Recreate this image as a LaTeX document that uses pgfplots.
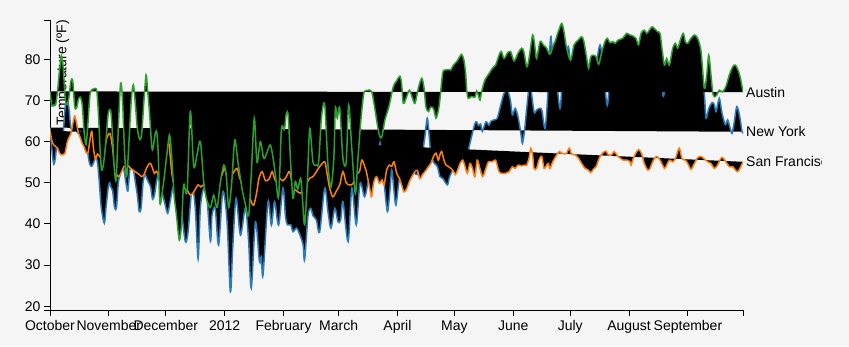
\documentclass[border=0pt]{standalone}
\usepackage{pgfplots}
\pgfplotsset{compat=1.18}
\usepackage{pgfplotstable}
\usepackage{fontspec}
\setmainfont{Liberation Sans}
\definecolor{bg}{HTML}{F5F5F5}
\definecolor{nyc}{HTML}{2B7BBA}
\definecolor{sfc}{HTML}{FF7F0E}
\definecolor{atx}{HTML}{2CA02C}

% day since 1 Oct 2011, temperature in F
\pgfplotstableread{
d t
0 63.4
1 58.1
2 54.5
3 56.7
4 61.9
5 59.6
6 58.7
7 62.4
8 68.4
9 70.5
10 68.0
11 63.2
12 63.5
13 65.4
14 62.6
15 62.0
16 62.3
17 61.4
18 62.4
19 63.0
20 57.0
21 54.5
22 54
23 55
24 56
25 55
26 50
27 44
28.6 40.2
29.5 44
30.7 49
31.5 50
32 49
33 48
34 44
35 44
36 50
37 52
38 54
39 53
40 50
41 48
42 53
43 54
44 53
45 50
46 47
47 43
48 44
49 50
50 52
51 51
52 50
53 49
54 46
55 47
56 50
57 52
58 51
59 47.8
60.5 45
62 42.6
63.5 46
65 49
66.5 44
68.7 43.4
69.5 42
71.3 35.7
72.7 38
74.8 48.7
76.5 44
78 31.6
79.2 44
81 48.7
82.7 46
84.5 35.7
85.3 42
87 43.8
88.8 34.9
91 47.8
93.2 41
95 23.5
96.2 34
98 46.2
100.3 37.3
102.9 43.8
104.6 36
106 24.4
108.2 40.5
110.3 30.9
111.3 32
112.2 27.6
114.8 45.4
116.6 39.7
118.3 45.4
120.4 39.7
122.7 48.7
124 42
125 39.8
126.8 39.8
128 38.1
129.8 39
131.5 37.5
133.3 34.9
134.1 31.3
135.9 42
137.3 43.8
138.5 42
140.3 41
142 38
144.7 48.7
146.4 43
148 39
150 43.8
151.7 40.5
153.1 41
154.3 45.4
157 35.7
159 48.7
161.3 39.8
163.3 49.9
165.7 46.6
167.5 50
169.5 52
171.4 54
173 57
173.8 59.8
174.6 57
176 50
177.7 43
179 48
180 53.1
181.2 48
182.2 44.6
183.8 50.3
185.5 53
187 54
189 53
191.7 52.5
193.3 52
195 55
196.3 57.5
197.5 61.5
198.7 65.7
199.7 61.5
200.5 57.5
202 55
204 54
205.4 51.5
207 51
209.3 49.5
210.5 51.5
213 54
215 55
217 56
219 57
220.3 58
222 61.2
223.8 64.4
224.7 64.8
225.6 63.9
226.8 64.3
227.7 62.5
229.6 64.8
231.2 64
232.1 64.9
233.9 65.3
235.6 65.7
237.4 68.9
239.1 71.7
240.9 72.5
242.5 70
243.5 66.5
245 68.1
246.5 66
248 62
248.8 59.6
250 63
251.5 70
252.8 74
254.9 67.3
256.3 67.7
258.1 68.1
259.1 67.5
260.7 63.2
262 70
263.7 85.5
265 78
266.5 76
268.6 68.1
270 76
271.5 80
273 83.1
274.5 78
276.5 77
279 79
281 80
283 75
285 75
287 77
289.7 83.5
291.5 77
293.5 68.8
295 76
297 78
300 79
303 80
306 81
309 80
312 81
315 80
318 81
321 79
323 71
324.5 76
327 79
330 80
333 81
336 80
339 81
342 78
344.5 72
345.5 65.7
347 68.1
348.7 69.5
349.9 69
350.8 67.3
352.5 70.5
353.9 67
355.7 64.1
356.9 65.3
358.1 63.5
359.2 62
360.4 64.8
361.7 68.5
363.1 66.5
364.5 62.4
365 62.4
}\nydata

\pgfplotstableread{
d t
0 62.7
1 60.2
2 59.2
3 58.8
4 58.4
5 57.2
6 56.8
7 56.8
8 57.3
9 59.7
10 61.0
11 61.9
12 64.3
13 66.2
14 64.5
15 62.0
16 60.9
17 59.5
18 58.7
19 57.4
20 57.3
21 60.3
22 62.5
23 58
24 55.8
25 57
26 56.5
27 56
28 57
29 59
30 61
31.6 62
32.8 59
34 54
34.8 52.3
36 51.5
37 52
38 53
39 54
40 54
41.3 54.1
42.5 53.5
44 53
45.5 52.5
47 52
48.3 51.5
49.5 52
50.8 53.5
52 54.5
53 54.7
54 53.5
55 52.3
56 52.8
57 52
58 50.5
59 51.5
60.5 56
62.3 60.4
64.3 51.9
66 49
68 48
70.4 49.5
72 48.5
74 47
76 48
78 49.5
79.5 49
81 49.5
83 48
85 48.5
87 50
89 51
90.6 51.9
92 53.5
94 50
96 52
98.5 53.5
100 51
102 50
104 49
105.5 46
107.3 44.6
109 48
110 51
111.7 52.7
113.5 50.5
115.5 51
117 52.7
118.7 50.5
120.4 50.5
121 51.1
122.7 50.5
124.5 51.5
126.2 52.7
128 49
130 48
132 47.5
134 49
136.8 51.1
138.5 51.5
140.3 52.7
142 53.9
144.7 55.1
146 52
147.3 48.7
149 46.6
150.8 48
152.6 49.5
154.3 52.7
156 50
157.8 49.5
159.6 49.8
161.3 52
163 52.7
164.2 55.5
165.4 54.5
166.8 52.3
168.9 47.4
169.4 46.6
170.5 50.1
172 51.5
173.5 49.9
174.9 50.7
176 49.5
177.3 53.1
178.7 54.3
180 54
181.2 55.1
182.6 52.3
184 51.1
185.2 49.5
186.4 47.8
187.8 48.5
189.3 50.3
190.6 51.5
192.2 52.7
193.5 53
194.8 51
196.2 52
197.5 52.7
199.3 53.9
200.7 54.8
201.9 56.3
203.3 57.2
204.5 55.5
205.4 56.8
206.3 57.6
207.5 55.5
208.6 54.3
210 53.9
212.1 53.1
213.5 52
214.7 53.1
216 54.7
217.4 55.5
218.6 54
219.8 52.3
221.2 54.7
222.5 53.5
223.8 51.5
225 55.5
226.4 53.5
227.9 51.5
229.6 53.5
230.9 55.1
233 55.1
234.7 55.5
236.5 52.7
238.2 52.3
240 52.3
241.8 52.7
243.5 53.9
245 53.5
246.5 54.3
248.4 54.1
250 54.3
251.1 54.3
252.3 56
253.2 58.4
254.2 56.8
254.9 53.5
256.3 53.5
257.5 55.5
259 56.4
260.2 53.5
261.6 54.3
262.5 54.7
263.3 53.5
264.8 55.1
266.9 56.8
268.3 57.6
269.5 57.2
271.2 57
272.1 57.2
273.5 58.4
274.7 57
276.5 56.8
278.3 56
280 54.7
281.8 53.5
283.5 53.1
284.8 52.5
286.2 53.3
287.6 53.9
289.3 56
291 57.2
292.8 57.7
294 56.8
295.8 56.8
297.1 57.6
298.5 56.8
300.2 56
302 55.5
303.8 55.5
305.5 55.1
306 54.3
307.2 55.9
309 57.6
310.4 58
311.8 56.8
313 54.7
314.8 53.1
316 53.5
317.4 55.1
319.2 56.4
320.6 56
321.8 55.1
323.6 53.5
324.8 54.3
326.2 55.5
328 55.1
329.4 55.9
330.6 57.6
331.5 58.4
332.9 55.9
334.6 55.5
335.9 54.7
337.6 53.3
339.4 54.7
341.1 56.1
342.9 56.4
344.6 55.8
346.4 55.1
348.1 54.7
349.9 53.5
351.6 54.3
353.4 56
354.6 56
356 55.1
357.8 53.9
359.6 53.9
361 53.1
362.2 52.7
363.4 53.5
365 55.1
}\sfdata

\pgfplotstableread{
d t
0 72.2
1 68.7
2 68.9
3 69.0
4 72.4
5 77.1
6 80.9
7 77.8
8 70.5
9 69.0
10 70.9
11 74.7
12 74.7
13 68.5
14 68.2
15 70.3
16 70.8
17 68.8
18 62.3
19 59.3
20 64.5
21 71.1
22 72.6
23 72.8
24.6 72.4
25.6 66
26.4 58
27.2 53.1
28.3 55
29.5 60.4
30.7 66.9
32 67.3
33 61
33.7 54.7
34.8 50.7
36 63.6
37.2 74.2
38.2 70
39.3 57.2
40.4 51.5
41.6 60
42.8 70.1
43.9 73.8
45 69
46 63.2
47.3 60.5
48.3 62
49.5 70.1
50.6 76.2
51.3 73
52.3 67.7
53.6 58.8
54.3 58.5
55.3 61.6
56.2 62.4
57 57
57.9 45
59.5 49
61.4 56.3
62.9 61.6
64 57
65.3 47.4
66.7 41.8
68.1 36.1
69.3 40
70.4 49.5
72.2 48
73.9 67.4
75.7 54
77.5 57
79.2 60
81 50
82.5 46
84.5 44
86.2 47
88 44
89.7 50
91.5 54.3
92.8 52
94.1 44
95.7 50
97.3 60.4
99 55
101.1 48.7
102.8 45
104.6 42
106 52
107.6 65.7
109 55
110.8 60
112.5 56
114 57
116 59.2
117.5 56
118.7 52
120.4 46.6
121.8 62.4
122.7 63.6
123.5 63
124.5 66.9
125.5 66
126.8 54.3
128 46.2
129.2 50.3
130.5 48.5
132 51.1
133 46
134.1 39.8
135.5 50
136.8 63.2
138.5 55.1
140.3 54.3
141.5 55.1
143 66
144.7 68.9
146.4 54.3
148 49
149.5 56
150.3 68.1
151.3 65.7
152.6 68.1
154.3 55.9
156 55
157.3 68.9
159 58
160.8 47.4
162.2 56
163.3 62.8
164.3 68
165.4 72
167 72.4
169.4 72.2
171.2 67.7
172.9 62.8
173.8 61.2
174.8 61.2
176.4 65.3
178.5 68.5
180.8 73.3
182.6 74.8
184.3 75.9
185.2 74
186.1 69.3
187.9 71
189.3 72.5
190.6 71
192.2 69.3
194 73
195.8 75.4
197 73
198 68.5
199.3 67.3
200.5 68.4
202 68
203.3 65.7
204.5 67.5
205.3 70
206.8 76.6
208 77.4
209.8 77.5
211 77.4
212.5 78.6
214.3 79.5
215.6 80.5
216.8 81.2
218 79.8
218.9 76.6
219.5 72.5
220.3 70.5
222 71
223.8 70.8
224.7 72.3
225.6 71.3
226.5 70.1
227.4 72.3
229.1 75
231.2 76.5
233 77.8
234.7 78.6
236.5 81.0
237.7 81.9
239.1 80.2
240.9 81.5
242.6 81.9
244.4 79.6
246.5 81.5
248.4 82.7
249.6 81.8
251.1 78.2
252.3 80.2
254.2 85.9
255.5 82.7
256.3 80.2
258.1 84.3
259.8 83.5
261.6 82.7
263.3 81.2
265.1 83.5
266 84.3
267.7 86.7
269.5 88.7
270.7 86.7
272.1 82.7
274.2 79.8
276 83.5
278.3 84.7
280 85.5
281.2 84.3
282.7 80.2
283.7 77.8
284.8 80.6
286.2 81.0
287.6 80.6
289 78.8
290.6 81.8
292.3 84.3
293.5 85.1
295 84
296.4 84.3
297.6 83.9
299.3 84.7
301.6 85.1
303.7 86.3
305 86
306.9 85.7
308.6 85.1
310 83.5
311.3 86.3
313 87.1
314.3 86.3
315.7 87.1
317.1 87.9
318.3 87.5
320 86.7
321.3 86.3
322.3 82.7
323.6 78.6
324.8 80.2
326.2 78.6
328 82.7
329.4 83.9
330.6 82.7
332.3 85.1
333.6 86.3
334.6 84.3
335.9 83.9
337.6 85.1
339.4 85.9
341.1 85.1
342.9 81.9
344.6 73
345.9 76.2
346.9 81.0
347.8 77.8
349 72.1
349.9 70.9
351.1 71.3
352.5 72.5
354.2 72.1
356 73.4
357.8 76.2
359.6 78.2
361 78.6
362.7 77
364 74.6
365 72.0
}\atxdata

\begin{document}
\begin{tikzpicture}[x=1bp,y=1bp]
\useasboundingbox (0,0) rectangle (849,346);
\fill[bg] (0,0) rectangle (849,346);
\begin{axis}[
  at={(50bp,36bp)}, anchor=south west,
  scale only axis, width=693bp, height=290bp,
  xmin=0, xmax=365, ymin=19.1, ymax=89.55,
  axis lines=left,
  axis line style={-, black, line width=1bp},
  tick align=outside, major tick length=6bp,
  tick style={black, line width=1bp},
  xtick={0,31,61,92,123,152,183,213,244,274,305,336},
  xticklabels={October,November,December,2012,February,March,April,May,June,July,August,September},
  extra x ticks={365}, extra x tick labels={},
  ytick={20,30,40,50,60,70,80},
  extra y ticks={19.1,89.55}, extra y tick labels={},
  tick label style={font=\fontsize{14bp}{16bp}\selectfont},
  x tick label style={yshift=-1bp},
  /pgf/number format/assume math mode=true,
  clip mode=individual,
]
\node[rotate=90, anchor=north east, inner sep=0pt, font=\fontsize{14bp}{16bp}\selectfont]
  at ([xshift=6bp]axis cs:0,89.55) {Temperature (ºF)};

\addplot[fill=black, draw=none, smooth] table {\nydata} -- cycle;
\addplot[draw=nyc, line width=1.5bp, smooth] table {\nydata};
\addplot[fill=black, draw=none, smooth] table {\sfdata} -- cycle;
\addplot[draw=sfc, line width=1.5bp, smooth] table {\sfdata};
\addplot[fill=black, draw=none, smooth] table {\atxdata} -- cycle;
\addplot[draw=atx, line width=1.5bp, smooth] table {\atxdata};

\coordinate (atxend) at (axis cs:365,72.0);
\coordinate (nyend) at (axis cs:365,62.4);
\coordinate (sfend) at (axis cs:365,55.1);
\end{axis}
\begin{scope}
\clip (0,0) rectangle (821,346);
\node[anchor=west, inner sep=0pt, font=\fontsize{14bp}{16bp}\selectfont] at ([xshift=3bp]atxend) {Austin};
\node[anchor=west, inner sep=0pt, font=\fontsize{14bp}{16bp}\selectfont] at ([xshift=3bp]nyend) {New York};
\node[anchor=west, inner sep=0pt, font=\fontsize{14bp}{16bp}\selectfont] at ([xshift=3bp]sfend) {San Francisco};
\end{scope}
\end{tikzpicture}
\end{document}
